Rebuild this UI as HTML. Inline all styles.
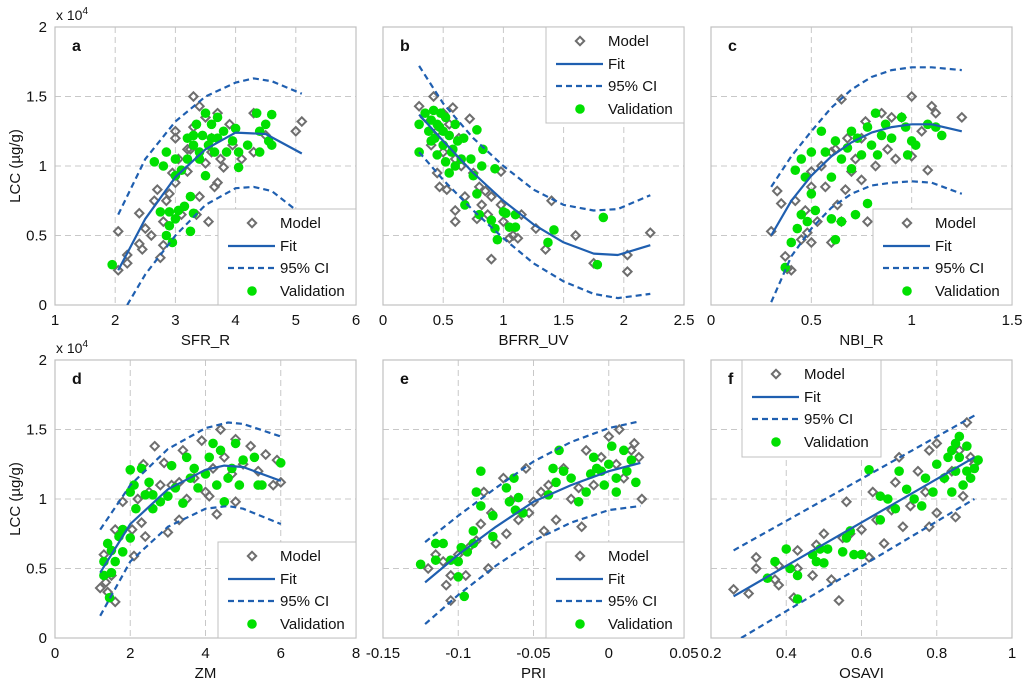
<!DOCTYPE html>
<html><head><meta charset="utf-8"><style>
body{margin:0;background:#fff;}
svg{display:block;font-family:"Liberation Sans",Arial,sans-serif;}
</style></head><body>
<svg id="fig" width="1024" height="682" viewBox="0 0 1024 682" xmlns="http://www.w3.org/2000/svg"></svg>
<script>
// ---------- DATA (y in units of 10^4 µg/g) ----------
const aModel=[[2.05,0.25],[2.05,0.53],[2.2,0.3],[2.2,0.36],[2.4,0.66],[2.4,0.44],[2.45,0.4],[2.5,0.55],[2.6,0.5],[2.65,0.75],[2.7,0.83],[2.75,0.34],[2.8,0.43],[2.8,0.6],[2.9,0.8],[2.95,0.95],[3,0.88],[3,1.25],[3.05,1.05],[3.1,0.65],[3.2,0.96],[3.2,1.12],[3.3,1.28],[3.3,1.5],[3.35,0.65],[3.4,1.43],[3.4,0.78],[3.5,1.35],[3.5,1.02],[3.55,0.6],[3.6,1.2],[3.7,0.88],[3.7,1.38],[3.75,1.05],[3.8,0.99],[3.9,1.3],[3.95,1.15],[4.1,1.05],[4.3,1.1],[4.3,1.38],[4.5,1.22],[5,1.25],[5.1,1.32],[3.6,1.1],[3.25,1.12],[3.0,1.2],[2.85,0.75],[3.65,0.85]];
const aVal=[[1.95,0.29],[2.65,1.03],[2.75,0.67],[2.8,1.0],[2.85,1.1],[2.85,0.5],[2.9,0.57],[2.9,0.67],[2.95,0.45],[3.0,0.62],[3.0,1.05],[3.05,0.68],[3.1,0.97],[3.15,0.71],[3.2,1.05],[3.2,1.2],[3.25,0.78],[3.25,0.53],[3.3,0.66],[3.3,1.15],[3.35,1.3],[3.4,1.1],[3.45,1.22],[3.5,1.38],[3.5,0.93],[3.55,1.15],[3.6,1.3],[3.65,1.1],[3.7,1.35],[3.7,1.2],[3.8,1.25],[3.85,1.1],[3.95,1.18],[4.0,1.27],[4.05,0.99],[4.05,1.1],[4.2,1.15],[4.35,1.38],[4.4,1.25],[4.4,1.1],[4.5,1.3],[4.55,1.18],[4.6,1.37],[4.6,1.15],[3.3,1.22],[3.4,1.05],[3.6,1.2],[3.0,0.93]];
const aFit=[[2.05,0.25],[2.5,0.62],[3,0.92],[3.5,1.12],[4,1.24],[4.5,1.23],[5.1,1.09]];
const aUp=[[2.05,0.65],[2.5,1.05],[3,1.32],[3.5,1.5],[4,1.6],[4.3,1.63],[4.6,1.61],[5.1,1.52]];
const aLo=[[2.2,0.0],[2.5,0.22],[3,0.5],[3.5,0.72],[4,0.84],[4.3,0.85],[4.6,0.82],[5.1,0.65]];

const bModel=[[0.3,1.43],[0.35,1.35],[0.42,1.5],[0.45,1.25],[0.45,0.95],[0.47,0.85],[0.5,1.1],[0.53,0.83],[0.58,1.42],[0.6,1.05],[0.6,0.68],[0.6,0.6],[0.63,1.2],[0.65,1.0],[0.68,0.78],[0.72,1.34],[0.75,0.95],[0.78,0.62],[0.8,0.85],[0.82,0.72],[0.85,0.82],[0.87,0.65],[0.9,0.33],[0.9,0.78],[0.98,0.72],[0.98,0.96],[1.0,0.6],[1.05,0.48],[1.08,0.5],[1.12,0.48],[1.15,0.65],[1.27,0.55],[1.35,0.4],[1.4,0.75],[1.6,0.5],[1.75,0.3],[2.03,0.36],[2.03,0.24],[2.22,0.52],[0.55,1.3],[0.5,1.38],[0.4,1.15]];
const bVal=[[0.3,1.3],[0.3,1.1],[0.35,1.38],[0.38,1.25],[0.4,1.33],[0.4,1.18],[0.42,1.4],[0.43,1.2],[0.45,1.3],[0.45,1.08],[0.48,1.38],[0.5,1.25],[0.5,1.15],[0.52,1.03],[0.52,1.35],[0.55,1.22],[0.55,0.95],[0.57,1.1],[0.6,1.3],[0.6,1.0],[0.62,1.18],[0.65,1.05],[0.67,1.2],[0.68,0.72],[0.73,1.05],[0.75,0.93],[0.78,1.26],[0.78,0.8],[0.8,0.65],[0.82,1.0],[0.83,1.12],[0.9,0.61],[0.93,0.55],[0.93,0.98],[0.95,0.47],[1.0,0.67],[1.02,0.66],[1.05,0.56],[1.1,0.56],[1.1,0.65],[1.37,0.45],[1.42,0.54],[1.78,0.29],[1.83,0.63],[0.47,1.28],[0.58,1.12]];
const bFit=[[0.3,1.37],[0.5,1.18],[0.75,0.95],[1,0.75],[1.25,0.58],[1.5,0.45],[1.75,0.37],[1.95,0.36],[2.22,0.43]];
const bUp=[[0.3,1.72],[0.5,1.45],[0.75,1.2],[1,1.0],[1.25,0.83],[1.5,0.72],[1.75,0.68],[1.95,0.69],[2.22,0.79]];
const bLo=[[0.3,1.1],[0.5,0.9],[0.75,0.68],[1,0.48],[1.25,0.3],[1.5,0.17],[1.75,0.08],[1.95,0.05],[2.22,0.08]];

const cModel=[[0.3,0.53],[0.33,0.82],[0.35,0.73],[0.37,0.35],[0.38,0.26],[0.4,0.25],[0.42,0.75],[0.45,0.47],[0.47,0.68],[0.48,0.52],[0.5,0.85],[0.5,0.45],[0.5,0.96],[0.53,0.6],[0.55,1.0],[0.57,0.85],[0.6,0.45],[0.62,1.12],[0.63,0.72],[0.65,1.48],[0.65,0.6],[0.67,0.83],[0.68,1.2],[0.7,0.96],[0.72,1.05],[0.75,0.9],[0.77,1.32],[0.78,0.6],[0.82,1.0],[0.85,1.38],[0.88,1.12],[0.9,1.35],[0.92,1.05],[0.95,1.35],[1.0,1.5],[1.0,1.07],[1.05,1.25],[1.08,0.97],[1.1,1.43],[1.12,1.38],[1.25,1.35],[0.6,1.1],[0.75,1.2]];
const cVal=[[0.37,0.27],[0.4,0.45],[0.42,0.97],[0.43,0.55],[0.45,0.65],[0.45,1.05],[0.47,0.92],[0.48,0.6],[0.5,0.8],[0.5,1.1],[0.52,0.68],[0.55,1.25],[0.57,1.1],[0.6,0.62],[0.6,0.92],[0.62,1.18],[0.62,0.47],[0.65,0.6],[0.65,1.05],[0.68,1.13],[0.7,1.25],[0.7,0.98],[0.72,0.65],[0.73,1.2],[0.75,1.08],[0.78,0.73],[0.78,1.28],[0.8,1.15],[0.82,1.38],[0.83,1.08],[0.85,1.22],[0.87,1.3],[0.9,1.2],[0.95,1.35],[0.98,1.08],[1.0,1.18],[1.02,1.15],[1.08,1.3],[1.12,1.28],[1.15,1.22],[0.97,1.28]];
const cFit=[[0.3,0.5],[0.4,0.75],[0.5,0.93],[0.6,1.07],[0.7,1.17],[0.8,1.24],[0.9,1.28],[1.0,1.3],[1.1,1.3],[1.25,1.25]];
const cUp=[[0.3,0.85],[0.4,1.07],[0.5,1.25],[0.6,1.42],[0.7,1.55],[0.8,1.64],[0.9,1.69],[1.0,1.71],[1.1,1.71],[1.25,1.69]];
const cLo=[[0.3,0.02],[0.4,0.35],[0.5,0.55],[0.6,0.7],[0.7,0.8],[0.8,0.86],[0.9,0.88],[1.0,0.89],[1.1,0.88],[1.25,0.8]];

const dModel=[[1.2,0.36],[1.3,0.6],[1.35,0.4],[1.4,0.33],[1.5,0.45],[1.6,0.26],[1.6,0.78],[1.8,0.98],[2.05,0.78],[2.1,0.59],[2.2,1.0],[2.3,0.83],[2.35,1.25],[2.4,0.73],[2.5,1.05],[2.65,1.38],[2.8,1.1],[2.9,1.26],[3.0,0.76],[3.1,1.1],[3.3,0.85],[3.4,1.35],[3.5,1.0],[3.7,1.15],[3.9,1.42],[4.0,1.05],[4.2,1.22],[4.3,0.89],[4.4,1.5],[4.5,1.3],[4.7,1.18],[4.8,1.43],[4.8,0.98],[5.0,1.25],[5.2,1.38],[5.4,1.2],[5.6,1.32],[5.8,1.1],[5.9,1.28],[6.0,1.12],[4.1,1.02],[3.3,1.12]];
const dVal=[[1.3,0.45],[1.3,0.55],[1.4,0.68],[1.45,0.29],[1.5,0.63],[1.5,0.47],[1.6,0.55],[1.7,0.73],[1.8,0.62],[1.8,0.78],[2.0,0.72],[2.0,1.05],[2.0,1.21],[2.1,1.1],[2.15,0.93],[2.3,1.22],[2.4,1.03],[2.5,1.12],[2.6,0.93],[2.6,1.03],[2.8,0.98],[3.0,1.02],[3.1,1.24],[3.2,1.08],[3.4,0.97],[3.5,1.3],[3.6,1.15],[3.7,1.22],[3.8,1.08],[4.0,1.18],[4.1,1.3],[4.2,1.4],[4.3,1.1],[4.4,1.35],[4.5,0.98],[4.6,1.15],[4.7,1.22],[4.8,1.4],[4.9,1.1],[5.0,1.28],[5.3,1.3],[5.4,1.1],[5.5,1.1],[6.0,1.26]];
const dFit=[[1.2,0.47],[2,0.82],[3,1.07],[4,1.21],[4.5,1.24],[5,1.23],[6,1.13]];
const dUp=[[1.2,0.78],[2,1.1],[3,1.36],[4,1.51],[4.6,1.55],[5,1.54],[6,1.45]];
const dLo=[[1.2,0.16],[2,0.55],[3,0.8],[4,0.93],[4.6,0.95],[5,0.93],[6,0.82]];

const eModel=[[-0.12,0.5],[-0.115,0.6],[-0.11,0.55],[-0.108,0.38],[-0.105,0.27],[-0.105,0.45],[-0.1,0.6],[-0.095,0.45],[-0.093,0.65],[-0.088,0.7],[-0.085,0.82],[-0.083,1.05],[-0.08,0.5],[-0.078,0.9],[-0.075,0.68],[-0.07,1.15],[-0.068,0.75],[-0.065,0.99],[-0.06,0.85],[-0.055,1.22],[-0.053,0.9],[-0.05,0.98],[-0.045,1.05],[-0.043,0.77],[-0.04,1.1],[-0.035,0.85],[-0.03,1.22],[-0.025,1.0],[-0.02,1.08],[-0.018,0.8],[-0.015,1.35],[-0.01,1.1],[-0.005,1.3],[0,1.45],[0.005,1.25],[0.007,1.5],[0.01,1.15],[0.015,1.35],[0.02,1.3],[0.022,1.0],[0.017,1.4]];
const eVal=[[-0.125,0.53],[-0.115,0.68],[-0.115,0.56],[-0.11,0.68],[-0.105,0.56],[-0.1,0.44],[-0.1,0.55],[-0.098,0.65],[-0.096,0.3],[-0.094,0.62],[-0.09,0.77],[-0.09,0.68],[-0.088,1.05],[-0.085,1.2],[-0.085,0.95],[-0.077,0.73],[-0.077,0.88],[-0.068,1.08],[-0.066,0.98],[-0.063,1.15],[-0.062,0.92],[-0.06,1.01],[-0.057,0.9],[-0.04,1.03],[-0.037,1.22],[-0.035,1.12],[-0.033,1.35],[-0.03,1.2],[-0.025,1.15],[-0.02,0.98],[-0.015,1.05],[-0.012,1.18],[-0.01,1.3],[-0.005,1.2],[-0.003,1.1],[0,1.25],[0.002,1.38],[0.005,1.15],[0.01,1.35],[0.012,1.2],[0.015,1.28],[0.018,1.12],[-0.008,1.22],[0.005,1.05]];
const eFit=[[-0.122,0.4],[-0.1,0.6],[-0.075,0.8],[-0.05,0.98],[-0.025,1.1],[0,1.2],[0.021,1.26]];
const eUp=[[-0.122,0.69],[-0.1,0.88],[-0.075,1.08],[-0.05,1.27],[-0.025,1.41],[0,1.51],[0.021,1.56]];
const eLo=[[-0.122,0.1],[-0.1,0.31],[-0.075,0.52],[-0.05,0.7],[-0.025,0.83],[0,0.92],[0.021,0.95]];

const fModel=[[0.26,0.35],[0.3,0.32],[0.32,0.58],[0.32,0.5],[0.37,0.42],[0.38,0.38],[0.38,0.52],[0.42,0.29],[0.43,0.63],[0.43,0.5],[0.47,0.45],[0.48,0.67],[0.5,0.75],[0.52,0.42],[0.54,0.27],[0.55,0.72],[0.56,0.98],[0.57,0.75],[0.6,0.78],[0.62,0.58],[0.64,0.85],[0.66,0.68],[0.68,0.92],[0.7,1.3],[0.71,0.8],[0.73,0.95],[0.75,1.2],[0.77,1.05],[0.78,1.35],[0.78,0.8],[0.8,0.9],[0.8,1.4],[0.82,1.15],[0.84,1.2],[0.85,0.87],[0.86,1.35],[0.87,1.02],[0.88,1.55],[0.89,1.3],[0.9,1.25],[0.63,1.05],[0.69,1.12]];
const fVal=[[0.35,0.43],[0.37,0.55],[0.4,0.64],[0.41,0.5],[0.43,0.28],[0.43,0.45],[0.47,0.6],[0.48,0.55],[0.49,0.64],[0.5,0.54],[0.51,0.64],[0.55,0.62],[0.56,0.72],[0.57,0.77],[0.58,0.6],[0.6,0.6],[0.62,1.21],[0.65,0.85],[0.65,1.02],[0.67,1.0],[0.69,0.93],[0.7,1.2],[0.72,1.07],[0.74,1.0],[0.76,0.95],[0.77,1.15],[0.79,1.05],[0.8,1.25],[0.82,1.15],[0.83,1.3],[0.84,1.05],[0.85,1.4],[0.85,1.2],[0.86,1.3],[0.87,1.1],[0.88,1.38],[0.88,1.2],[0.89,1.15],[0.9,1.22],[0.91,1.28],[0.86,1.45],[0.84,1.35]];
const fFit=[[0.26,0.3],[0.9,1.3]];
const fUp=[[0.26,0.63],[0.9,1.6]];
const fLo=[[0.28,0.0],[0.9,1.0]];

const xTicksA=["1","2","3","4","5","6"];
const xTicksB=["0","0.5","1","1.5","2","2.5"];
const xTicksC=["0","0.5","1","1.5"];
const xTicksD=["0","2","4","6","8"];
const xTicksE=["-0.15","-0.1","-0.05","0","0.05"];
const xTicksF=["0.2","0.4","0.6","0.8","1"];
const yTicks=["0","0.5","1","1.5","2"];

const NS="http://www.w3.org/2000/svg";
const svg=document.getElementById('fig');
const BLUE="#1f5fb0";
function mk(tag,attrs,parent){const e=document.createElementNS(NS,tag);for(const k in attrs)e.setAttribute(k,attrs[k]);(parent||svg).appendChild(e);return e;}
function txt(s,x,y,anchor,size,parent,weight){const t=mk('text',{x:x,y:y,'text-anchor':anchor,'font-size':size,fill:'#111'},parent);if(weight)t.setAttribute('font-weight',weight);t.textContent=s;return t;}

const panels=[
 {id:'a',L:55,R:356,T:27,B:305,xmin:1,xmax:6,ticks:xTicksA,xl:'SFR_R',model:aModel,val:aVal,fit:aFit,up:aUp,lo:aLo,leg:[218,209,356,305],ylab:true},
 {id:'b',L:383,R:684,T:27,B:305,xmin:0,xmax:2.5,ticks:xTicksB,xl:'BFRR_UV',model:bModel,val:bVal,fit:bFit,up:bUp,lo:bLo,leg:[546,27,684,123]},
 {id:'c',L:711,R:1012,T:27,B:305,xmin:0,xmax:1.5,ticks:xTicksC,xl:'NBI_R',model:cModel,val:cVal,fit:cFit,up:cUp,lo:cLo,leg:[873,209,1012,305]},
 {id:'d',L:55,R:356,T:360,B:638,xmin:0,xmax:8,ticks:xTicksD,xl:'ZM',model:dModel,val:dVal,fit:dFit,up:dUp,lo:dLo,leg:[218,542,356,638],ylab:true},
 {id:'e',L:383,R:684,T:360,B:638,xmin:-0.15,xmax:0.05,ticks:xTicksE,xl:'PRI',model:eModel,val:eVal,fit:eFit,up:eUp,lo:eLo,leg:[546,542,684,638]},
 {id:'f',L:711,R:1012,T:360,B:638,xmin:0.2,xmax:1,ticks:xTicksF,xl:'OSAVI',model:fModel,val:fVal,fit:fFit,up:fUp,lo:fLo,leg:[742,360,881,457]}
];

function diamond(g,x,y,name){const s=4.2;const p=mk('polygon',{points:`${x},${y-s} ${x+s},${y} ${x},${y+s} ${x-s},${y}`,fill:'none',stroke:'#6e6e6e','stroke-width':2},g);

return p;}
function dot(g,x,y,name){const c=mk('circle',{cx:x,cy:y,r:4.8,fill:'#00e000'},g);

return c;}

panels.forEach(P=>{
 const g=mk('g',{});
 
 
 const sx=v=>P.L+(v-P.xmin)/(P.xmax-P.xmin)*(P.R-P.L);
 const sy=v=>P.B-v/2*(P.B-P.T);
 const clip='clip'+P.id;
 const cp=mk('clipPath',{id:clip},g);mk('rect',{x:P.L,y:P.T,width:P.R-P.L,height:P.B-P.T},cp);
 // grid
 const n=P.ticks.length;
 P.ticks.forEach((t,i)=>{const v=P.xmin+i*(P.xmax-P.xmin)/(n-1);const x=sx(v);
  if(i>0&&i<n-1){const l=mk('line',{x1:x,y1:P.T,x2:x,y2:P.B,stroke:'#c8c8c8','stroke-dasharray':'6,4','stroke-width':1},g);}
  const tl=txt(t,x,P.B+20,'middle',15,g);});
 yTicks.forEach((t,i)=>{const y=sy(i*0.5);
  if(i>0&&i<4){const l=mk('line',{x1:P.L,y1:y,x2:P.R,y2:y,stroke:'#c8c8c8','stroke-dasharray':'6,4','stroke-width':1},g);}
  if(P.ylab){const tl=txt(t,P.L-8,y+5,'end',15,g);}});
 const box=mk('rect',{x:P.L,y:P.T,width:P.R-P.L,height:P.B-P.T,fill:'none',stroke:'#c0c0c0','stroke-width':1.2},g);
 
 const xl=txt(P.xl,(P.L+P.R)/2,P.B+40,'middle',15,g);
 
 if(P.ylab){
  const yt=txt('LCC (µg/g)',0,0,'middle',15,g);yt.setAttribute('transform',`translate(20,${(P.T+P.B)/2}) rotate(-90)`);
  
  const ex=mk('text',{x:P.L+1,y:P.T-7,'font-size':14,fill:'#111'},g);ex.innerHTML='x 10<tspan dy="-6" font-size="10">4</tspan>';
  
 }
 const pl=txt(P.id,P.L+17,P.T+24,'start',16,g,'bold');
 
 const marks=mk('g',{'clip-path':`url(#${clip})`},g);
 P.model.forEach(p=>diamond(marks,sx(p[0]),sy(p[1]),'model-point'));
 P.val.forEach(p=>dot(marks,sx(p[0]),sy(p[1]),'validation-point'));
 function curve(arr,dash,name){const d=arr.map((p,i)=>(i?'L':'M')+sx(p[0]).toFixed(1)+','+sy(p[1]).toFixed(1)).join(' ');
  const path=mk('path',{d:d,fill:'none',stroke:BLUE,'stroke-width':2.2,'stroke-linejoin':'round'},marks);
  if(dash)path.setAttribute('stroke-dasharray','6,4');
  }
 curve(P.fit,false,'fit-line');curve(P.up,true,'ci-upper-line');curve(P.lo,true,'ci-lower-line');
 // legend
 const [lx,ly,rx,by]=P.leg;
 const lg=mk('g',{},g);
 
 mk('rect',{x:lx,y:ly,width:rx-lx,height:by-ly,fill:'#fff',stroke:'#c0c0c0','stroke-width':1},lg);
 const rows=[ly+14,ly+37,ly+59,ly+82];
 const mx=lx+34;
 diamond(lg,mx,rows[0],'legend-model-marker');
 const l1=mk('line',{x1:lx+10,y1:rows[1],x2:lx+57,y2:rows[1],stroke:BLUE,'stroke-width':2.2},lg);
 
 const l2=mk('line',{x1:lx+10,y1:rows[2],x2:lx+57,y2:rows[2],stroke:BLUE,'stroke-width':2.2,'stroke-dasharray':'6,4'},lg);
 
 dot(lg,mx,rows[3],'legend-validation-marker');
 ['Model','Fit','95% CI','Validation'].forEach((s,i)=>{const t=txt(s,lx+62,rows[i]+5,'start',15,lg);
  });
});
</script>
</body></html>
